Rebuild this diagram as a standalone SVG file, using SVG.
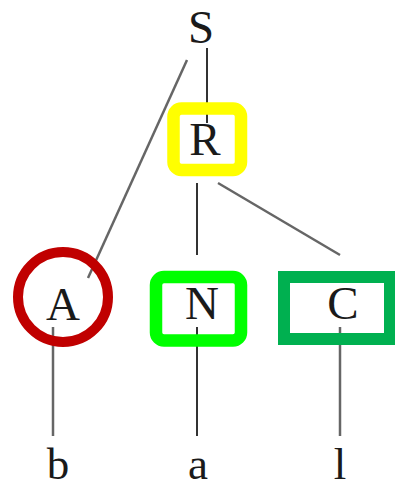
<svg xmlns="http://www.w3.org/2000/svg" width="395" height="489" viewBox="0 0 395 489">
<style>
.t{font-family:"Liberation Serif","Times New Roman",serif;font-size:47px;fill:#1a1a1a;text-anchor:middle}
.leaf{font-size:45px}
.e{stroke:#333;stroke-width:2;fill:none}
.g{stroke:#666;stroke-width:2.5;fill:none}
</style>
<rect width="395" height="489" fill="#fff"/>
<g id="connectors">
<line class="e" x1="207" y1="48" x2="207" y2="123"/>
<line class="g" x1="187" y1="60" x2="88" y2="278"/>
<line class="e" x1="197" y1="183" x2="197" y2="255"/>
<line class="g" x1="218" y1="183" x2="340" y2="255"/>
<line class="g" x1="53" y1="327" x2="53" y2="436"/>
<line class="e" x1="197" y1="327" x2="197" y2="436"/>
<line class="g" x1="340" y1="327" x2="340" y2="436"/>
</g>
<g id="S"><text class="t" x="201" y="43">S</text></g>
<g id="R">
<rect x="173.5" y="108.5" width="67.5" height="61.5" rx="8" fill="none" stroke="#ffff00" stroke-width="12.5"/>
<text class="t" x="205" y="155">R</text>
</g>
<g id="A">
<circle cx="63" cy="297" r="45" fill="none" stroke="#c00000" stroke-width="10"/>
<text class="t" x="63" y="320">A</text>
</g>
<g id="N">
<rect x="156" y="277" width="85" height="63.5" rx="8" fill="none" stroke="#00ff00" stroke-width="12.5"/>
<text class="t" x="202" y="319">N</text>
</g>
<g id="C">
<rect x="284" y="277" width="106" height="62" fill="none" stroke="#00b050" stroke-width="12"/>
<text class="t" x="343" y="319">C</text>
</g>
<g id="b"><text class="t leaf" x="58" y="479">b</text></g>
<g id="a"><text class="t leaf" x="198" y="479">a</text></g>
<g id="l"><text class="t leaf" x="340" y="479">l</text></g>
</svg>
